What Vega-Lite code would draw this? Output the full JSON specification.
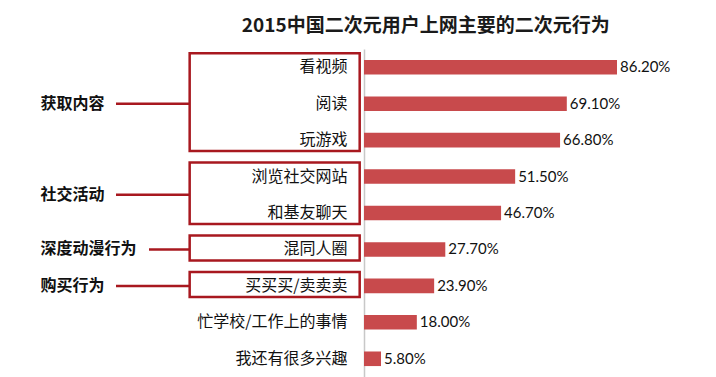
{
  "$schema": "https://vega.github.io/schema/vega-lite/v6.json",
  "width": 293.5,
  "height": 328,
  "autosize": {"type": "none"},
  "padding": {"left": 364, "top": 49, "right": 58, "bottom": 0},
  "background": "white",
  "title": {
    "text": "2015中国二次元用户上网主要的二次元行为",
    "font": "Noto Sans CJK SC",
    "fontSize": 19,
    "fontWeight": "bold",
    "color": "#1a1a1a",
    "anchor": "middle",
    "dx": -85,
    "offset": 13
  },
  "config": {"view": {"stroke": null}},
  "datasets": {
    "bars": [
      {"cat": "看视频", "v": 0.862},
      {"cat": "阅读", "v": 0.691},
      {"cat": "玩游戏", "v": 0.668},
      {"cat": "浏览社交网站", "v": 0.515},
      {"cat": "和基友聊天", "v": 0.467},
      {"cat": "混同人圈", "v": 0.277},
      {"cat": "买买买/卖卖卖", "v": 0.239},
      {"cat": "忙学校/工作上的事情", "v": 0.18},
      {"cat": "我还有很多兴趣", "v": 0.058}
    ],
    "groups": [
      {"group": "获取内容", "from": 1, "to": 3},
      {"group": "社交活动", "from": 4, "to": 5},
      {"group": "深度动漫行为", "from": 6, "to": 6},
      {"group": "购买行为", "from": 7, "to": 7}
    ]
  },
  "layer": [
    {
      "data": {"name": "bars"},
      "encoding": {
        "y": {
          "field": "cat",
          "type": "nominal",
          "sort": null,
          "scale": {"paddingInner": 0.6, "paddingOuter": 0.3},
          "axis": {
            "title": null,
            "ticks": false,
            "tickSize": 0,
            "labelPadding": 17,
            "labelFont": "Noto Sans CJK SC",
            "labelFontSize": 16,
            "labelColor": "#111111",
            "domainColor": "#c8c8c8",
            "domainWidth": 1.5,
            "grid": false
          }
        },
        "x": {
          "field": "v",
          "type": "quantitative",
          "scale": {"domain": [0, 1]},
          "axis": null
        }
      },
      "layer": [
        {"mark": {"type": "bar", "color": "#c84a4c"}},
        {
          "mark": {
            "type": "text",
            "align": "left",
            "baseline": "middle",
            "dx": 3,
            "font": "Lato",
            "fontSize": 15,
            "color": "#111111"
          },
          "encoding": {"text": {"field": "v", "type": "quantitative", "format": ".2%"}}
        }
      ]
    },
    {
      "data": {"name": "groups"},
      "transform": [
        {"calculate": "(datum.from + datum.to) / 2", "as": "mid"},
        {"calculate": "(40 + length(datum.group) * 16.5 + 10 - 364) / 293.5", "as": "x0"}
      ],
      "layer": [
        {
          "mark": {
            "type": "rect",
            "filled": false,
            "stroke": "#a8181f",
            "strokeWidth": 2.5,
            "yOffset": -14,
            "y2Offset": 11
          },
          "encoding": {
            "x": {"datum": -0.594, "type": "quantitative", "scale": {"domain": [0, 1]}},
            "x2": {"datum": -0.0147},
            "y": {"field": "from", "type": "quantitative", "scale": {"domain": [0.5, 9.5], "reverse": true, "nice": false, "zero": false}, "axis": null},
            "y2": {"field": "to"}
          }
        },
        {
          "mark": {"type": "rule", "stroke": "#a8181f", "strokeWidth": 2.5},
          "encoding": {
            "x": {"field": "x0", "type": "quantitative", "scale": {"domain": [0, 1]}},
            "x2": {"datum": -0.594},
            "y": {"field": "mid", "type": "quantitative", "scale": {"domain": [0.5, 9.5], "reverse": true, "nice": false, "zero": false}, "axis": null}
          }
        },
        {
          "mark": {
            "type": "text",
            "align": "left",
            "baseline": "middle",
            "font": "Noto Sans CJK SC",
            "fontSize": 16,
            "fontWeight": "bold",
            "color": "#111111"
          },
          "encoding": {
            "x": {"datum": -1.1026, "type": "quantitative", "scale": {"domain": [0, 1]}},
            "y": {"field": "mid", "type": "quantitative", "scale": {"domain": [0.5, 9.5], "reverse": true, "nice": false, "zero": false}, "axis": null},
            "text": {"field": "group"}
          }
        }
      ]
    }
  ],
  "resolve": {"scale": {"y": "independent"}}
}
